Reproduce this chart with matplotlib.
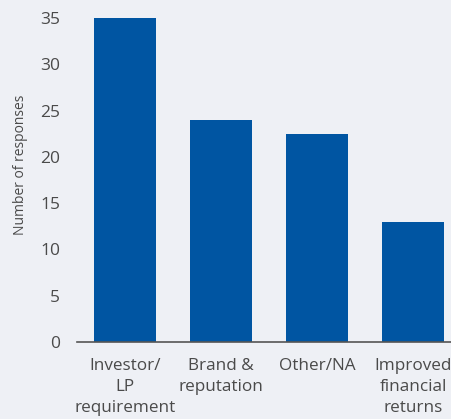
import matplotlib
matplotlib.use("Agg")
import matplotlib.pyplot as plt

categories = ["Investor/\nLP\nrequirement", "Brand &\nreputation", "Other/NA", "Improved\nfinancial\nreturns"]
responses = [35, 24, 22.5, 13]
yticks = [0, 5, 10, 15, 20, 25, 30, 35]

bg = "#eef0f5"
bar_color = "#0055a2"
text_color = "#4a4a4a"

plt.rcParams["font.family"] = ["Open Sans", "DejaVu Sans"]

fig = plt.figure(figsize=(4.51, 4.19), dpi=100, facecolor=bg)
ax = fig.add_axes([77 / 451, 77 / 419, 384 / 451, 324 / 419], facecolor=bg)

ax.bar(range(len(categories)), responses, width=0.646, color=bar_color)
ax.set_xlim(-0.5, 3.5)
ax.set_ylim(0, 35)
ax.set_yticks(yticks)
ax.set_xticks(range(len(categories)))
ax.set_xticklabels(categories, linespacing=1.43)

for s in ["top", "right", "left"]:
    ax.spines[s].set_visible(False)
ax.spines["bottom"].set_color("#555555")
ax.spines["bottom"].set_linewidth(1.2)

ax.tick_params(axis="y", length=0, pad=12, labelsize=12.5, labelcolor=text_color)
ax.tick_params(axis="x", length=0, pad=11.5, labelsize=12.3, labelcolor=text_color)

ax.set_ylabel("Number of responses", fontsize=10, color=text_color)
ax.yaxis.set_label_coords(-0.128, 0.546)

fig.savefig("out.png", dpi=100, facecolor=bg)
